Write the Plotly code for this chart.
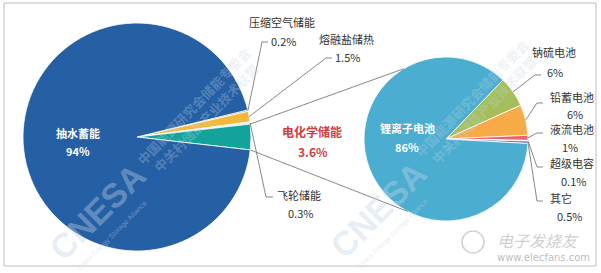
import math
import plotly.graph_objects as go

# ---------------- data ----------------
left_labels = ["压缩空气储能", "熔融盐储热", "飞轮储能", "电化学储能", "抽水蓄能"]
left_values = [0.2, 1.5, 0.3, 3.6, 94]
left_text = ["0.2%", "1.5%", "0.3%", "3.6%", "94%"]
left_colors = ["#3F78B8", "#F3B93C", "#DDEFF3", "#12A39B", "#2660A4"]

right_labels = ["钠硫电池", "铅蓄电池", "液流电池", "超级电容", "其它", "锂离子电池"]
right_values = [6, 6, 1, 0.1, 0.5, 86]
right_text = ["6%", "6%", "1%", "0.1%", "0.5%", "86%"]
right_colors = ["#A4BF5A", "#F7AA48", "#E8656C", "#C9D3E0", "#6C7EC6", "#4BAED0"]

W, H = 601, 273
LC, LR = (137, 137), 114      # left pie centre / radius (px)
RC, RR = (446, 139), 82       # right pie centre / radius (px)

# teal (电化学储能) slice centred on 3 o'clock
idx_ec = left_labels.index("电化学储能")
tot_l = sum(left_values)
before = sum(left_values[:idx_ec]) + left_values[idx_ec] / 2
left_rot = 90 - before / tot_l * 360
right_rot = 44


def px(x):
    return x / W


def py(y):
    return 1 - y / H


def dom(c, r):
    return dict(x=[px(c[0] - r), px(c[0] + r)], y=[py(c[1] + r), py(c[1] - r)])


def slice_angle(values, rot, i, f=0.5):
    tot = sum(values)
    return rot + (sum(values[:i]) + values[i] * f) / tot * 360


def pt(c, r, ang):
    t = math.radians(ang)
    return (c[0] + r * math.sin(t), c[1] - r * math.cos(t))


fig = go.Figure()
fig.add_trace(go.Pie(
    labels=left_labels, values=left_values, sort=False, direction="clockwise",
    rotation=left_rot, domain=dom(LC, LR), textinfo="none", hoverinfo="none",
    marker=dict(colors=left_colors, line=dict(color="white", width=0.8)),
    showlegend=False))
fig.add_trace(go.Pie(
    labels=right_labels, values=right_values, sort=False, direction="clockwise",
    rotation=right_rot, domain=dom(RC, RR), textinfo="none", hoverinfo="none",
    marker=dict(colors=right_colors, line=dict(color="white", width=0.8)),
    showlegend=False))

shapes = []
ann = []
LINE = dict(color="#555555", width=0.7)
CJK = "Noto Sans CJK SC, Microsoft YaHei, sans-serif"


def poly(points):
    d = "M " + " L ".join(f"{px(x):.5f},{py(y):.5f}" for x, y in points)
    shapes.append(dict(type="path", path=d, xref="paper", yref="paper", line=LINE))


def text(x, y, s, size=11, color="#333333", bold=False, xanchor="center", angle=0,
         family=CJK):
    if bold:
        s = f"<b>{s}</b>"
    ann.append(dict(x=px(x), y=py(y), xref="paper", yref="paper", text=s,
                    showarrow=False, xanchor=xanchor, yanchor="middle", textangle=angle,
                    font=dict(size=size, color=color, family=family)))


# faint watermarks (drawn first so labels sit on top)
wm = "rgba(195,212,230,0.40)"
for cx, cy in [(97, 212), (378, 210)]:
    text(cx, cy, "CNESA", size=34, color=wm, bold=True, angle=-45,
         family="Arial, Liberation Sans, sans-serif")
for cx, cy in [(112, 236), (393, 234)]:
    text(cx, cy, "China Energy Storage Alliance", size=7, color="rgba(195,212,230,0.45)",
         angle=-45, family="Arial, sans-serif")
for cx, cy in [(200, 112), (478, 104)]:
    text(cx, cy, "中国能源研究会储能专委会<br>中关村储能产业技术联盟", size=13,
         color="rgba(195,212,230,0.30)", bold=True, angle=-46)
text(538, 240, "<i>电子发烧友</i>", size=16, color="rgba(175,175,175,0.6)")
text(543, 257, "www.elecfans.com", size=10, color="rgba(165,165,165,0.75)",
     family="DejaVu Sans, sans-serif")
shapes.append(dict(type="circle", xref="paper", yref="paper",
                   x0=px(462), x1=px(484), y0=py(253), y1=py(231),
                   line=dict(color="rgba(190,190,190,0.7)", width=1.5)))

# connector lines between the two pies
a0 = slice_angle(left_values, left_rot, idx_ec, 0.0)
a1 = slice_angle(left_values, left_rot, idx_ec, 1.0)
poly([pt(LC, LR, a0), pt(RC, RR, -31)])
poly([pt(LC, LR, a1), pt(RC, RR, 208)])

# left labels
i = left_labels.index("抽水蓄能")
text(78, 133, left_labels[i], bold=True, color="white")
text(78, 151, left_text[i], bold=True, color="white")
i = left_labels.index("压缩空气储能")
text(247, 22, left_labels[i], xanchor="left")
text(269, 41, left_text[i], xanchor="left")
poly([(268, 42), (262, 42), pt(LC, LR, slice_angle(left_values, left_rot, i))])
i = left_labels.index("熔融盐储热")
text(317, 39, left_labels[i], xanchor="left")
text(333, 57, left_text[i], xanchor="left")
poly([(332, 58), (326, 58), pt(LC, LR, slice_angle(left_values, left_rot, i))])
i = left_labels.index("飞轮储能")
text(275, 195, left_labels[i], xanchor="left")
text(286, 213, left_text[i], xanchor="left")
poly([(273, 197), (266, 197), pt(LC, LR, slice_angle(left_values, left_rot, i))])
text(312, 131, left_labels[idx_ec], size=12, bold=True, color="#D0403E")
text(313, 151, left_text[idx_ec], size=12, bold=True, color="#D0403E")

# right labels
i = right_labels.index("锂离子电池")
text(407, 128, right_labels[i], bold=True, color="white")
text(407, 147, right_text[i], bold=True, color="white")
rpos = {"钠硫电池": (530, 52, 545, 72), "铅蓄电池": (548, 97, 565, 114),
        "液流电池": (548, 129, 560, 147), "超级电容": (548, 163, 559, 181),
        "其它": (548, 198, 555, 216)}
elbow_y = {"钠硫电池": 75, "铅蓄电池": 103, "液流电池": 133, "超级电容": 167, "其它": 201}
for name, (tx, ty, vx, vy) in rpos.items():
    i = right_labels.index(name)
    text(tx, ty, name, xanchor="left")
    text(vx, vy, right_text[i], xanchor="left")
    ey = elbow_y[name]
    ex = 543 if name != "钠硫电池" else 541
    poly([(ex, ey), (ex - 6, ey), pt(RC, RR, slice_angle(right_values, right_rot, i))])

# outer frame
shapes.append(dict(type="rect", xref="paper", yref="paper", x0=px(4), x1=px(596),
                   y0=py(266), y1=py(3), line=dict(color="#BDBDBD", width=1)))

fig.update_layout(width=W, height=H, margin=dict(l=0, r=0, t=0, b=0),
                  paper_bgcolor="white", plot_bgcolor="white",
                  shapes=shapes, annotations=ann)
fig.write_html("out.html")
